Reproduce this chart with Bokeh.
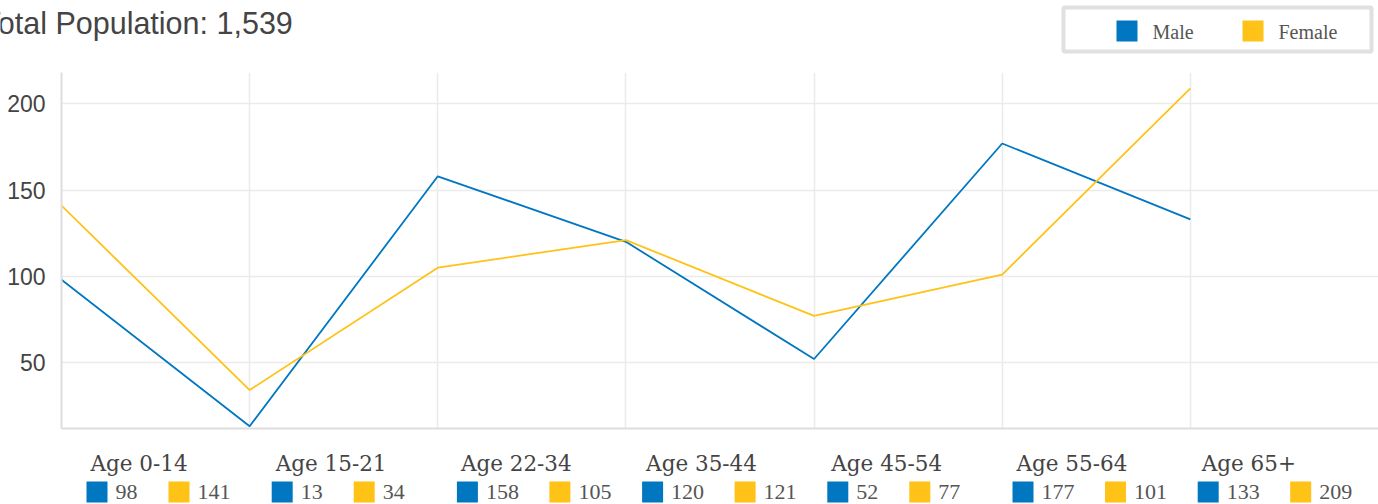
from bokeh.plotting import figure
from bokeh.models import Range1d, FixedTicker
from bokeh.layouts import column
from bokeh.core.properties import value
from bokeh.embed import file_html
from bokeh.resources import INLINE

# ---- data ----
categories = ["Age 0-14", "Age 15-21", "Age 22-34", "Age 35-44", "Age 45-54", "Age 55-64", "Age 65+"]
male = [98, 13, 158, 120, 52, 177, 133]
female = [141, 34, 105, 121, 77, 101, 209]
series_names = ["Male", "Female"]
y_ticks = [50, 100, 150, 200]
title_text = "Total Population: 1,539"

BLUE = "#0077c0"
YELLOW = "#ffc217"
TXT = "#444444"
TXT2 = "#555555"

W = 1378
H_HEAD = 72
H_MAIN = 368
H_FOOT = 504 - H_HEAD - H_MAIN


def blank(fig):
    fig.grid.visible = False
    fig.outline_line_color = None
    fig.background_fill_color = "white"
    fig.border_fill_color = "white"
    fig.min_border = 0
    fig.min_border_left = 0
    fig.min_border_right = 0
    fig.min_border_top = 0
    fig.min_border_bottom = 0


# ---- header (page coordinates) ----
head = figure(width=W, height=H_HEAD, output_backend="svg", toolbar_location=None,
              x_axis_type=None, y_axis_type=None, frame_align=False,
              x_range=Range1d(0, W), y_range=Range1d(H_HEAD, 0))
blank(head)
head.text(x=[-18], y=[22], text=[title_text], text_font=value("Liberation Sans"),
          text_font_size="30.5px", text_color=TXT, text_baseline="middle", text_align="left")
# legend box
head.quad(left=[1063], right=[1371], top=[7], bottom=[51], fill_color="white",
          line_color="#e0e0e0", line_width=4)
lx = [1116, 1242]
head.quad(left=lx, right=[v + 21 for v in lx], top=[20, 20], bottom=[41, 41],
          fill_color=[BLUE, YELLOW], line_color=None)
head.text(x=[v + 36 for v in lx], y=[31, 31], text=series_names,
          text_font=value("Liberation Serif"), text_font_size="20px", text_color=TXT2,
          text_baseline="middle", text_align="left")

# ---- main chart ----
xs = list(range(len(categories)))
p = figure(width=W, height=H_MAIN, output_backend="svg", toolbar_location=None,
           frame_align=False,
           x_range=Range1d(0, 7.0), y_range=Range1d(11.7, 218.2),
           min_border_left=61, min_border_right=0, min_border_top=0, min_border_bottom=12)
p.background_fill_color = "white"
p.border_fill_color = "white"
p.outline_line_color = None

p.line(xs, male, line_color=BLUE, line_width=1.8)
p.line(xs, female, line_color=YELLOW, line_width=1.8)

p.xaxis.ticker = FixedTicker(ticks=xs)
p.xaxis.major_label_text_font_size = "1px"
p.xaxis.major_label_text_color = None
p.xaxis.major_label_standoff = 0
p.xaxis.major_tick_line_color = None
p.xaxis.minor_tick_line_color = None
p.xaxis.major_tick_out = 0
p.xaxis.axis_line_color = "#dddddd"
p.xaxis.axis_line_width = 2

p.yaxis.ticker = FixedTicker(ticks=y_ticks)
p.yaxis.major_label_text_font = "Liberation Sans"
p.yaxis.major_label_text_font_size = "23px"
p.yaxis.major_label_text_color = TXT
p.yaxis.major_label_standoff = 16
p.yaxis.major_tick_line_color = None
p.yaxis.minor_tick_line_color = None
p.yaxis.major_tick_out = 0
p.yaxis.axis_line_color = "#dddddd"
p.yaxis.axis_line_width = 2

p.xgrid.ticker = FixedTicker(ticks=xs + [7])
p.xgrid.grid_line_color = "#ebebeb"
p.xgrid.grid_line_width = 1.5
p.ygrid.grid_line_color = "#ebebeb"
p.ygrid.grid_line_width = 1.5

# ---- footer table (page coordinates) ----
top_foot = H_HEAD + H_MAIN
foot = figure(width=W, height=H_FOOT, output_backend="svg", toolbar_location=None,
              x_axis_type=None, y_axis_type=None, frame_align=False,
              x_range=Range1d(0, W), y_range=Range1d(top_foot + H_FOOT, top_foot))
blank(foot)

STEP = 185.2
DIGIT_W = 10.5
bx = [86 + STEP * i for i in range(len(categories))]
yx = [b + 29 + len(str(m)) * DIGIT_W + 32 for b, m in zip(bx, male)]

foot.text(x=[b + 4 for b in bx], y=[463] * len(bx), text=categories,
          text_font=value("DejaVu Serif"), text_font_size="21.5px", text_color=TXT,
          text_baseline="middle", text_align="left")
sq_left = bx + yx
sq_col = [BLUE] * len(bx) + [YELLOW] * len(yx)
foot.quad(left=sq_left, right=[v + 21 for v in sq_left], top=[481] * len(sq_left),
          bottom=[502] * len(sq_left), fill_color=sq_col, line_color=None)
foot.text(x=[v + 29 for v in sq_left], y=[491.5] * len(sq_left),
          text=[str(v) for v in male] + [str(v) for v in female],
          text_font=value("Liberation Serif"), text_font_size="22px", text_color=TXT2,
          text_baseline="middle", text_align="left")

layout = column(head, p, foot, spacing=0)
open("out.html", "w").write(file_html(layout, INLINE))
